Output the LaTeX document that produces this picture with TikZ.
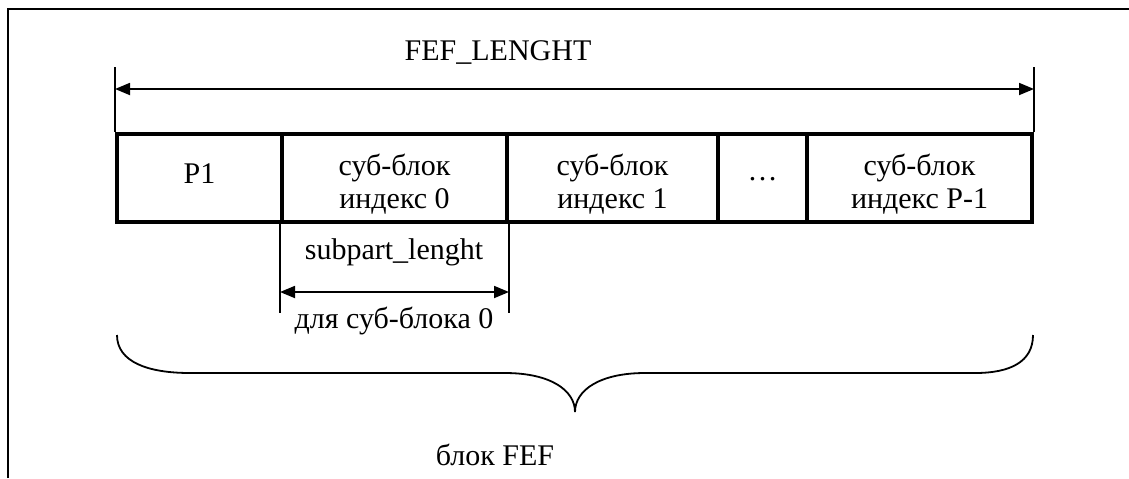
\documentclass[tikz,border=0pt]{standalone}
\usepackage{fontspec}
\setmainfont{Liberation Serif}
\usetikzlibrary{arrows.meta}

\begin{document}
\begin{tikzpicture}[x=0.5pt,y=-0.5pt,
        cell/.style={draw,line width=2pt,minimum height=44pt,inner sep=0pt},
        txt/.style={font=\fontsize{15}{16.5}\selectfont,align=center,anchor=base,inner sep=0pt},
        dimline/.style={line width=0.9pt,{Triangle[length=7.5pt,width=6pt]}-{Triangle[length=7.5pt,width=6pt]}},
        extline/.style={line width=0.7pt}]
        \useasboundingbox (0,0) rectangle (1129,478);
        \draw[line width=1pt] (8,478) -- (8,9) -- (1129,9);
        % cells of the FEF block
        \node[cell,minimum width=82.5pt] (p1) at (199.5,178) {};
        \node[cell,minimum width=112.5pt] (sb0) at (394.5,178) {};
        \node[cell,minimum width=105.5pt] (sb1) at (612.5,178) {};
        \node[cell,minimum width=44.5pt] (dots) at (762.5,178) {};
        \node[cell,minimum width=112.5pt] (sbp) at (919.5,178) {};
        \node[txt] (tp1) at (199.5,183) {P1};
        \node[txt] (tsb0) at (394.5,208) {суб-блок\\индекс 0};
        \node[txt] (tsb1) at (612.5,208) {суб-блок\\индекс 1};
        \node[txt] (tdots) at (762.5,180) {\dots};
        \node[txt] (tsbp) at (919.5,208) {суб-блок\\индекс P-1};
        % total length
        \coordinate (fefl) at (p1.north west |- 0,67);
        \coordinate (fefr) at (sbp.north east |- 0,67);
        \draw[extline] (fefl) -- (p1.north west);
        \draw[extline] (fefr) -- (sbp.north east);
        \draw[dimline] (p1.north west |- 0,89) -- (sbp.north east |- 0,89);
        \node[txt] (tfef) at (498,60) {FEF\_LENGHT};
        % sub-block length
        \coordinate (subl) at (sb0.south west |- 0,313);
        \coordinate (subr) at (sb0.south east |- 0,313);
        \draw[extline] (sb0.south west) -- (subl);
        \draw[extline] (sb0.south east) -- (subr);
        \draw[dimline] (sb0.south west |- 0,292) -- (sb0.south east |- 0,292);
        \node[txt] (tsub) at (394,259) {subpart\_lenght};
        \node[txt] (tsub0) at (394,328) {для суб-блока 0};
        % brace
        \draw[line width=0.9pt] (117,335) .. controls (117,362) and (148,373) .. (190,373) -- (505,373)
            .. controls (550,373) and (575,390) .. (575,412) .. controls (575,390) and (600,373) .. (645,373)
            -- (975,373) .. controls (1010,373) and (1033,362) .. (1033,335);
        \node[txt] (tblock) at (495,465) {блок FEF};
\end{tikzpicture}
\end{document}
